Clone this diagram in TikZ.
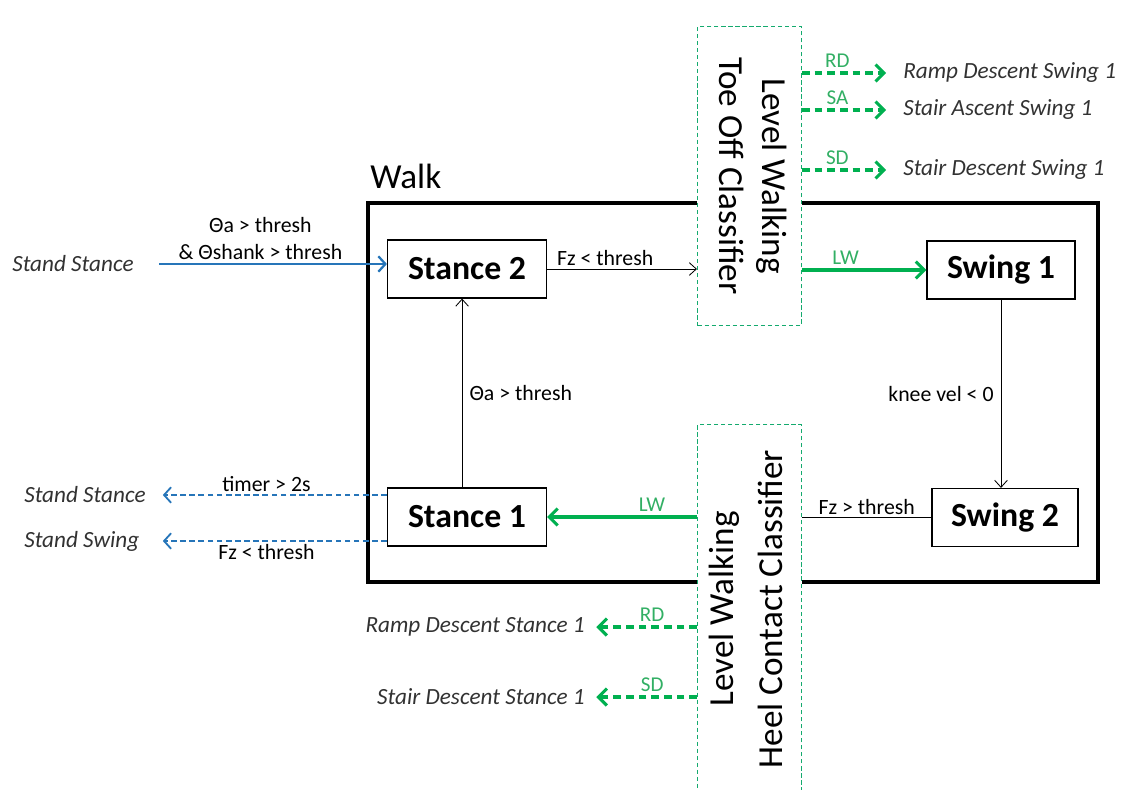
\documentclass[tikz,border=0pt]{standalone}
\usepackage{fontspec}
\setmainfont{Carlito}
\usepackage{graphicx}
\usetikzlibrary{arrows.meta}
\definecolor{lwgreen}{RGB}{0,176,80}
\definecolor{lwtext}{RGB}{50,175,100}
\definecolor{stblue}{RGB}{38,117,185}
\definecolor{clsline}{RGB}{20,170,110}
\definecolor{tgtgray}{RGB}{50,50,50}

\begin{document}
\begin{tikzpicture}[x=0.025cm,y=-0.025cm,
    state/.style={draw, line width=0.8pt, minimum height=1.45cm, inner sep=0pt,
        font=\fontsize{24}{28}\selectfont\bfseries},
    classifier/.style={draw=clsline, fill=white, line width=0.75pt, dash pattern=on 3pt off 2pt,
        minimum width=2.6cm, inner sep=0pt, font=\fontsize{25}{30}\selectfont},
    target/.style={inner sep=0pt, text=tgtgray, font=\fontsize{16.5}{20}\selectfont\itshape},
    elabel/.style={inner sep=2pt, text=black, font=\fontsize{15.5}{19.5}\selectfont},
    glabel/.style={inner sep=3pt, text=lwtext, font=\fontsize{15}{18}\selectfont},
    thinarrow/.style={line width=0.6pt, -{Straight Barb[length=5pt,width=9pt]}},
    greenarrow/.style={lwgreen, line width=2.2pt, -{Straight Barb[length=6pt,width=12pt]}},
    greendash/.style={greenarrow, dash pattern=on 5.5pt off 3.5pt},
    bluearrow/.style={stblue, line width=1.6pt, -{Straight Barb[length=5pt,width=11pt]}},
    bluedash/.style={bluearrow, line width=1.3pt, dash pattern=on 4pt off 2.5pt}]
    \useasboundingbox (0,0) rectangle (1126,790);

    % Walk super state
    \node[draw, line width=2.6pt, minimum width=18.25cm, minimum height=9.475cm] (walk) at (733,392.5) {};
    \node[anchor=base west, inner sep=0pt, font=\fontsize{25}{30}\selectfont] (walklabel) at (370,188) {Walk};

    % States inside walk
    \node[state, minimum width=3.975cm] (stanceII) at (467,269) {Stance 2};
    \node[state, minimum width=3.7cm] (swingI) at (1001,270) {Swing 1};
    \node[state, minimum width=3.975cm] (stanceI) at (467,517) {Stance 1};
    \node[state, minimum width=3.65cm] (swingII) at (1005,517.5) {Swing 2};

    % Classifiers
    \node[classifier, minimum height=7.45cm] (toeoff) at (749.5,176)
        {\rotatebox{-90}{\begin{tabular}{@{}c@{}}Level Walking\\Toe Off Classifier\end{tabular}}};
    \node[classifier, minimum height=9.2cm] (heel) at (749.5,609)
        {\rotatebox{90}{\begin{tabular}{@{}c@{}}Level Walking\\[5pt]Heel Contact Classifier\end{tabular}}};

    % Outside states
    \node[target, anchor=west] (standA) at (12,264) {Stand Stance};
    \node[target, anchor=west] (standB) at (24,495) {Stand Stance};
    \node[target, anchor=west] (standC) at (24,541) {Stand Swing};
    \node[target, anchor=west] (rampS) at (903,73) {Ramp Descent Swing 1};
    \node[target, anchor=west] (stairAS) at (903,110) {Stair Ascent Swing 1};
    \node[target, anchor=west] (stairDS) at (903,170) {Stair Descent Swing 1};
    \node[target, anchor=east] (rampT) at (585,627) {Ramp Descent Stance 1};
    \node[target, anchor=east] (stairDT) at (585,697) {Stair Descent Stance 1};

    % Entry into walk
    \draw[bluearrow, shorten <=18pt] (standA.east) -- (standA.east -| stanceII.west)
        node[elabel, midway, above, align=center] {Θa > thresh\\\& Θshank > thresh};

    % Drawing transitions of the cycle
    \draw[thinarrow] (stanceII.east) -- (stanceII.east -| toeoff.west)
        node[elabel, midway, above, xshift=-12pt] {Fz < thresh};
    \draw[greenarrow] (swingI.west -| toeoff.east) -- (swingI.west)
        node[glabel, pos=0.35, above] {LW};
    \draw[thinarrow] (swingI.south) -- (swingI.south |- swingII.north)
        node[elabel, midway, left, xshift=-3pt] {knee vel < 0};
    \draw[line width=0.6pt] (swingII.west) -- (swingII.west -| heel.east)
        node[elabel, midway, above] {Fz > thresh};
    \draw[greenarrow] (stanceI.east -| heel.west) -- (stanceI.east)
        node[glabel, pos=0.3, above] {LW};
    \draw[thinarrow] ([xshift=-3.5pt]stanceI.north) -- ([xshift=-3.5pt]stanceII.south)
        node[elabel, midway, right, xshift=3pt] {Θa > thresh};

    % Drawing exits of toe off classifier
    \draw[greendash, shorten >=12pt] (toeoff.east |- rampS.west) -- (rampS.west)
        node[glabel, pos=0.35, above] {RD};
    \draw[greendash, shorten >=12pt] (toeoff.east |- stairAS.west) -- (stairAS.west)
        node[glabel, pos=0.35, above] {SA};
    \draw[greendash, shorten >=12pt] (toeoff.east |- stairDS.west) -- (stairDS.west)
        node[glabel, pos=0.35, above] {SD};

    % Drawing exits of heel contact classifier
    \draw[greendash, shorten >=8pt] (heel.west |- rampT.east) -- (rampT.east)
        node[glabel, pos=0.4, above] {RD};
    \draw[greendash, shorten >=8pt] (heel.west |- stairDT.east) -- (stairDT.east)
        node[glabel, pos=0.4, above] {SD};

    % Drawing exits to standing
    \draw[bluedash, shorten >=12pt] (stanceI.west |- standB.east) -- (standB.east)
        node[elabel, midway, above] {timer > 2s};
    \draw[bluedash, shorten >=12pt] (stanceI.west |- standC.east) -- (standC.east -| standB.east)
        node[elabel, midway, below] {Fz < thresh};
\end{tikzpicture}
\end{document}
